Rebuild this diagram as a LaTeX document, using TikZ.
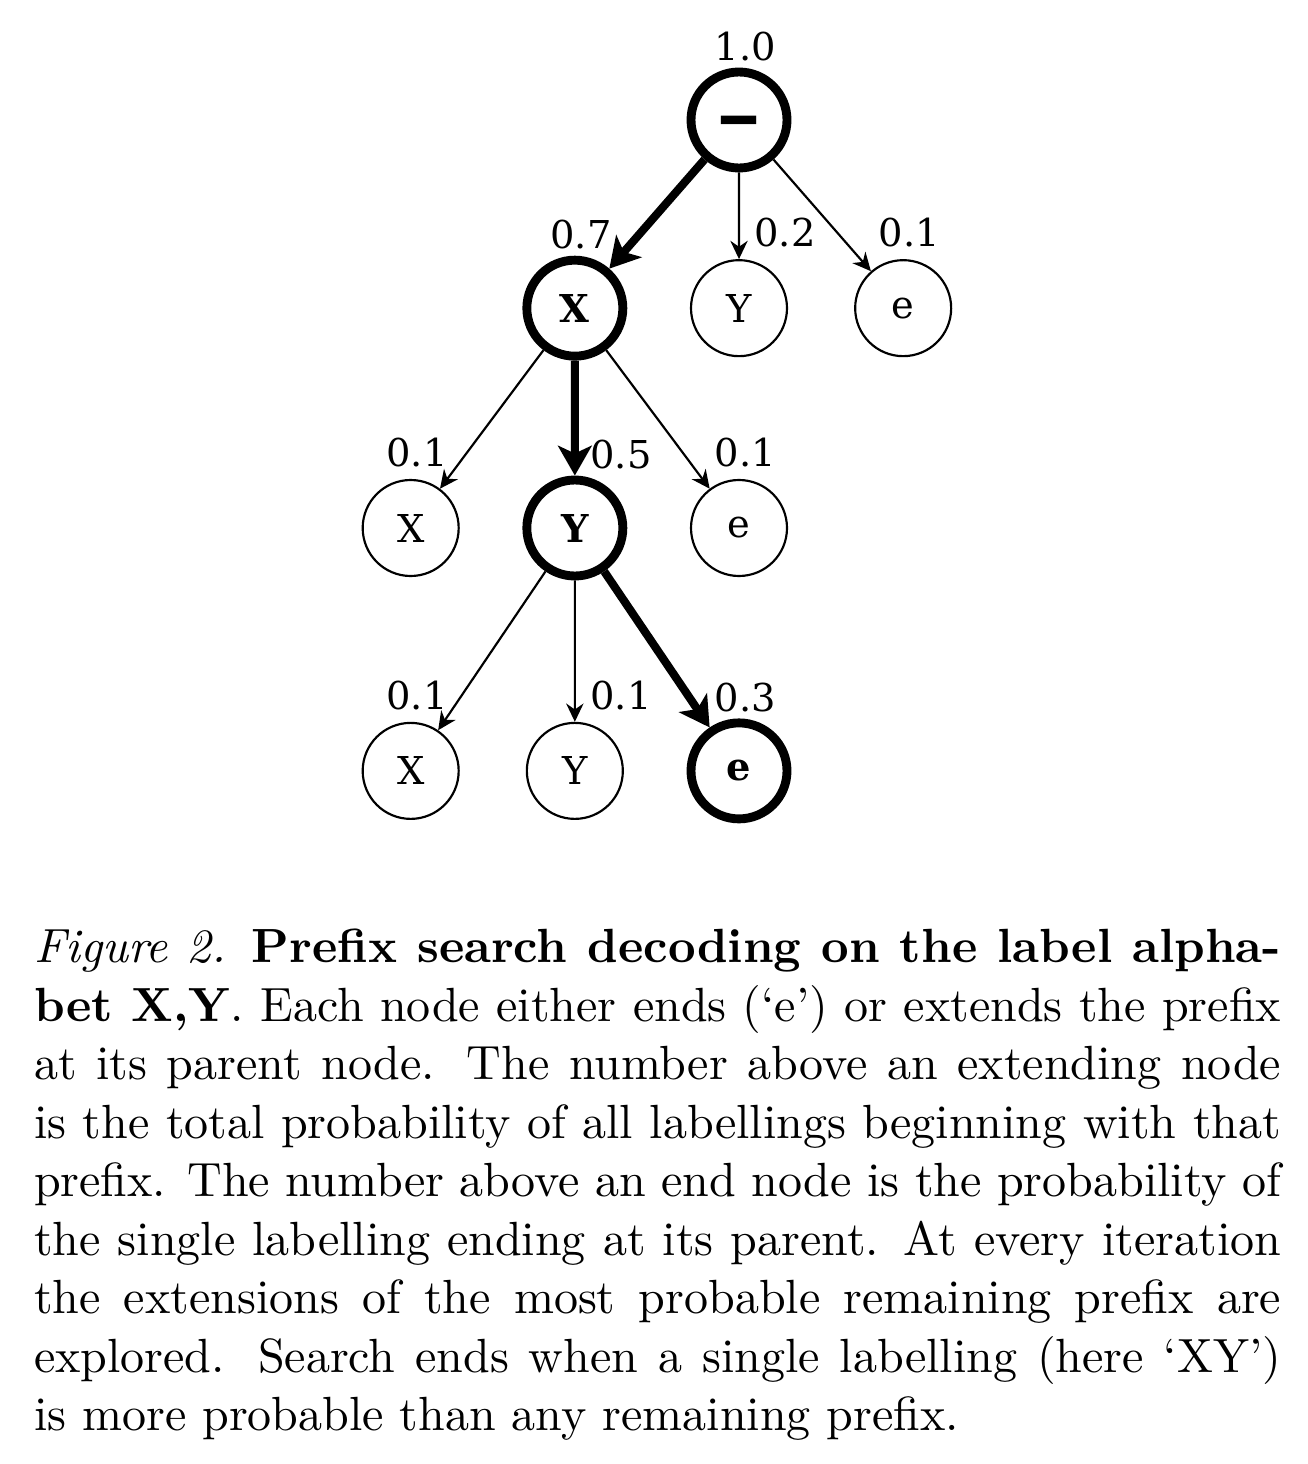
\documentclass[tikz,border=0pt]{standalone}
\usepackage{fontspec}
\usepackage{xcolor}
\usepackage{graphicx}
\usepackage{tikz}
\usetikzlibrary{arrows.meta}
\newfontfamily\treefont{DejaVu Serif}

\begin{document}
\begin{tikzpicture}[sibling distance=34.2pt,
    level 1/.style={level distance=39.2pt},
    level 2/.style={level distance=45.8pt},
    level 3/.style={level distance=50.6pt},
    every node/.style={shape=circle,minimum size=20pt,inner sep=0pt,line width=0.45pt,font=\treefont\fontsize{8}{9}\selectfont},
    heavy/.style={draw,line width=1.85pt,font=\treefont\bfseries\fontsize{8}{9}\selectfont},
    light/.style={draw},
    prob/.style={shape=rectangle,minimum size=0pt,inner sep=0pt,xshift=1.3pt,font=\treefont\fontsize{8}{9}\selectfont},
    probside/.style={prob,xshift=8.3pt},
    heavyprob/.style={prob,yshift=-1.1pt},
    label distance=2.3pt,
    edge from parent/.style={draw,line width=0.45pt,-{Stealth[length=3.8pt,width=3.6pt]}},
    heavyedge/.style={line width=1.7pt,-{Stealth[length=6.2pt,width=7pt,inset=1.6pt]}},
    caption/.style={shape=rectangle,minimum size=0pt,inner sep=0pt,anchor=base west,text width=259.8pt,align=justify,font=\fontsize{10}{12.19}\selectfont}]
  \useasboundingbox (-153.96pt,-280pt) rectangle (118.54pt,25pt);
  \node[heavy,label={[heavyprob]above:1.0}] (root) {\fontsize{15}{15}\selectfont\raisebox{-4pt}[0pt][0pt]{\scalebox{1.25}[1]{–}}}
    child {node[heavy,label={[heavyprob]above:0.7}] (x) {X}
      child {node[light,label={[prob]above:0.1}] (xx) {X}}
      child {node[heavy,label={[heavyprob,xshift=8.3pt]above:0.5}] (xy) {Y}
        child {node[light,label={[prob]above:0.1}] (xyx) {X}}
        child {node[light,label={[probside]above:0.1}] (xyy) {Y}}
        child {node[heavy,label={[heavyprob]above:0.3}] (xye) {e} edge from parent[heavyedge]}
        edge from parent[heavyedge]}
      child {node[light,label={[prob]above:0.1}] (xe) {e}}
      edge from parent[heavyedge]}
    child {node[light,label={[probside]above:0.2}] (y) {Y}}
    child {node[light,label={[prob]above:0.1}] (e) {e}};
  % caption below the tree
  \node[caption] (cap) at (-147.08pt,-175.6pt) {\textit{Figure 2.} \textbf{Prefix search decoding on the label alpha-\linebreak bet X,Y}. Each node either ends (`e') or extends the prefix\linebreak at its parent node. The number above an extending node\linebreak is the total probability of all labellings beginning with that\linebreak prefix. The number above an end node is the probability of\linebreak the single labelling ending at its parent. At every iteration\linebreak the extensions of the most probable remaining prefix are\linebreak explored. Search ends when a single labelling (here `XY')\linebreak is more probable than any remaining prefix.};
\end{tikzpicture}
\end{document}
